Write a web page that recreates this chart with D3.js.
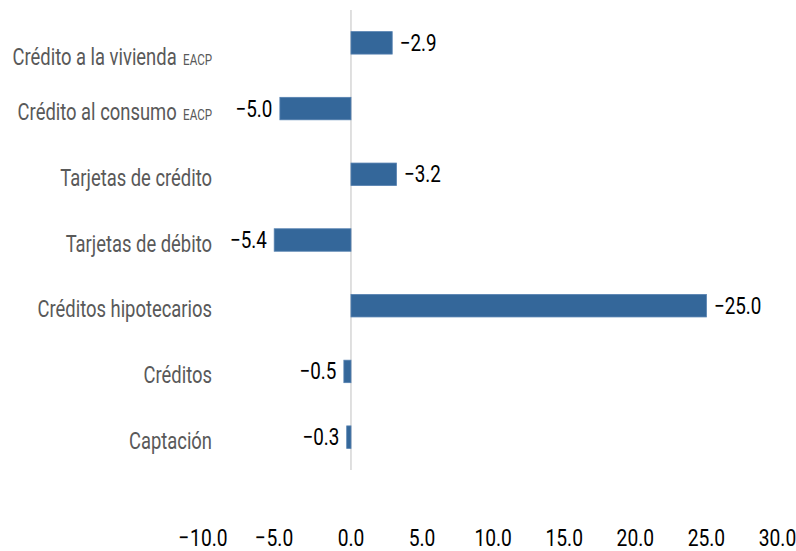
<!DOCTYPE html>
<html>
<head>
<meta charset="utf-8">
<script src="https://cdn.jsdelivr.net/npm/d3@7"></script>
<style>
  html, body { margin: 0; padding: 0; background: #ffffff; }
  svg { display: block; }
  text { font-family: Roboto, "Noto Sans", sans-serif; }
</style>
</head>
<body>
<svg id="chart" width="796" height="551"></svg>
<script>
// Categories (top to bottom), the small tag after some names, and the values
const categories = [
  "Crédito a la vivienda",
  "Crédito al consumo",
  "Tarjetas de crédito",
  "Tarjetas de débito",
  "Créditos hipotecarios",
  "Créditos",
  "Captación"
];
const categoryTags = ["EACP", "EACP", "", "", "", "", ""];
const values = [2.9, -5.0, 3.2, -5.4, 25.0, -0.5, -0.3];
const xTicks = [-10, -5, 0, 5, 10, 15, 20, 25, 30];

const MINUS = "\u2212";
const SQUEEZE = 0.8;           // horizontal condensing of the type
const BAR_FILL = "#34679a";
const BAR_EDGE = "#5580b0";

const svg = d3.select("#chart");

const x = d3.scaleLinear().domain([-10, 30]).range([208.3, 777]);
const y = d3.scaleBand()
  .domain(categories)
  .range([10, 470])
  .paddingInner(0.658)
  .paddingOuter(0.329);

// Value labels: the magnitude with a leading minus, one decimal
const fmtLabel = v => MINUS + Math.abs(v).toFixed(1);

// Zero line
svg.append("line")
  .attr("x1", x(0) + 0.5).attr("x2", x(0) + 0.5)
  .attr("y1", y.range()[0]).attr("y2", y.range()[1])
  .attr("stroke", "#c0c0c0")
  .attr("stroke-width", 1);

// Bars
svg.append("g")
  .selectAll("rect")
  .data(values)
  .join("rect")
  .attr("x", d => x(Math.min(0, d)) + 0.5)
  .attr("y", (d, i) => y(categories[i]))
  .attr("width", d => Math.abs(x(d) - x(0)))
  .attr("height", y.bandwidth())
  .attr("fill", BAR_FILL)
  .attr("stroke", BAR_EDGE)
  .attr("stroke-width", 0.8);

// Value labels beside each bar
const valueLabels = svg.append("g")
  .selectAll("g")
  .data(values)
  .join("g")
  .attr("transform", (d, i) => {
    const cy = y(categories[i]) + y.bandwidth() / 2 + 8;
    const cx = d >= 0 ? x(d) + 8 : x(d) - 7;
    return `translate(${cx},${cy}) scale(${SQUEEZE},1)`;
  });
valueLabels.append("text")
  .attr("text-anchor", d => d >= 0 ? "start" : "end")
  .attr("font-size", 23.5)
  .attr("fill", "#000000")
  .text(d => fmtLabel(d));

// Category labels, right-aligned left of the plot
const catLabels = svg.append("g")
  .selectAll("g")
  .data(categories)
  .join("g")
  .attr("transform", (d, i) => {
    const cy = y(d) + y.bandwidth() / 2 + (i === 0 ? 22 : 11.5);
    return `translate(212,${cy}) scale(${SQUEEZE},1)`;
  });
const catText = catLabels.append("text")
  .attr("text-anchor", "end")
  .attr("font-size", 23)
  .attr("fill", "#595959");
catText.append("tspan").text(d => d);
catText.filter(d => categoryTags[categories.indexOf(d)] !== "")
  .append("tspan")
  .attr("dx", 8)
  .attr("font-size", 14.5)
  .text(d => categoryTags[categories.indexOf(d)]);

// Bottom axis: tick labels only, numbers centred on the tick with any minus hung to the left
const xAxis = d3.axisBottom(x)
  .tickValues(xTicks)
  .tickSize(0)
  .tickPadding(0)
  .tickFormat(d => Math.abs(d).toFixed(1));

const axisG = svg.append("g")
  .attr("transform", "translate(0,546)")
  .call(xAxis);
axisG.select(".domain").remove();
axisG.selectAll(".tick text")
  .attr("y", 0)
  .attr("dy", 0)
  .attr("font-size", 24)
  .attr("font-family", "Roboto, 'Noto Sans', sans-serif")
  .attr("fill", "#000000")
  .attr("transform", `scale(${SQUEEZE},1)`);
axisG.selectAll(".tick").each(function (d) {
  if (d >= 0) return;
  const tick = d3.select(this);
  const num = tick.select("text");
  const w = num.node().getComputedTextLength();
  tick.append("text")
    .attr("x", -w / 2 - 1)
    .attr("y", 0)
    .attr("text-anchor", "end")
    .attr("font-size", 24)
    .attr("fill", "#000000")
    .attr("transform", `scale(${SQUEEZE},1)`)
    .text(MINUS);
});
</script>
</body>
</html>
